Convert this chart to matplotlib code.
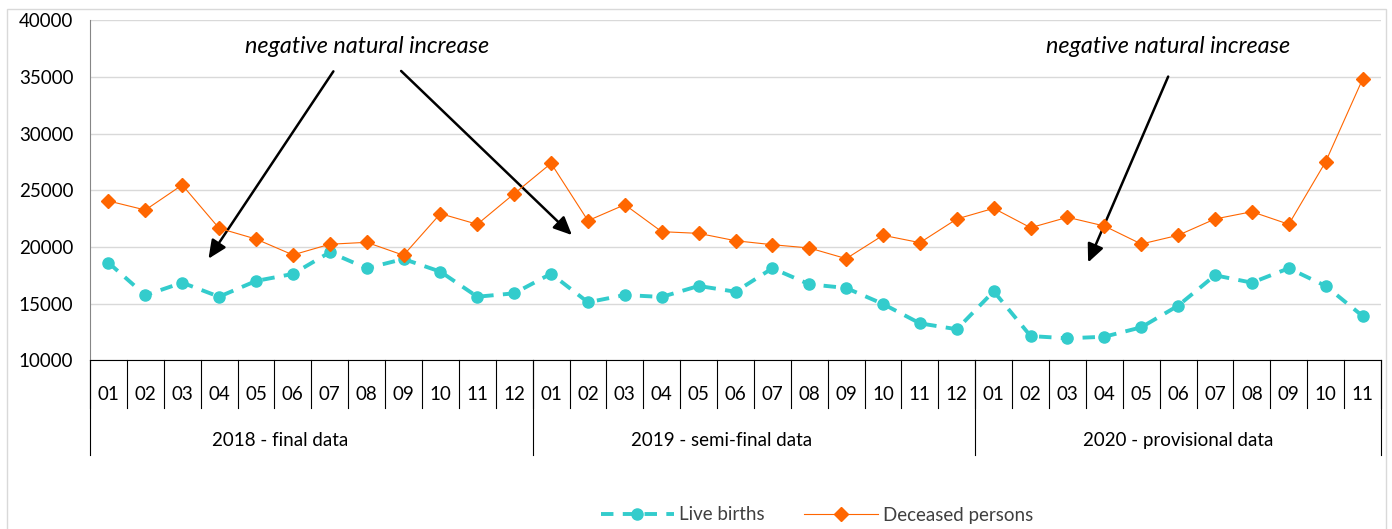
import matplotlib
matplotlib.use("Agg")
import matplotlib.pyplot as plt
from matplotlib.patches import Rectangle
from matplotlib import transforms

plt.rcParams['font.family'] = ['Lato', 'DejaVu Sans']

# data
months = ["01", "02", "03", "04", "05", "06", "07", "08", "09", "10", "11", "12",
          "01", "02", "03", "04", "05", "06", "07", "08", "09", "10", "11", "12",
          "01", "02", "03", "04", "05", "06", "07", "08", "09", "10", "11"]
groups = ["2018 - final data", "2019 - semi-final data", "2020 - provisional data"]
group_sizes = [12, 12, 11]

live_births = [18610, 15740, 16850, 15610, 17000, 17620, 19530, 18120, 18940, 17820, 15610, 15910,
               17640, 15120, 15760, 15590, 16560, 16050, 18120, 16710, 16380, 14970, 13260, 12740,
               16090, 12140, 11940, 12080, 12910, 14820, 17500, 16850, 18120, 16560, 13910]
deceased = [24060, 23260, 25470, 21650, 20700, 19300, 20240, 20410, 19270, 22940, 22000, 24700,
            27380, 22320, 23730, 21350, 21200, 20550, 20200, 19910, 18970, 21030, 20380, 22470,
            23410, 21700, 22620, 21850, 20260, 21030, 22470, 23110, 22000, 27520, 34800]
yticks = [10000, 15000, 20000, 25000, 30000, 35000, 40000]

W, H = 1392, 529
FS = 13.5
fig = plt.figure(figsize=(W / 100, H / 100), dpi=100)
fig.patches.append(Rectangle((7 / W, -0.1), (1386 - 7) / W, 1.1 - 9 / H,
                             transform=fig.transFigure, fill=False,
                             edgecolor="#D9D9D9", linewidth=1))

ax = fig.add_axes([90 / W, (H - 360.3) / H, 1291 / W, 340 / H])
x = list(range(len(months)))

ax.plot(x, live_births, color="#33CCCC", linewidth=2.8, dashes=(3.2, 2.4),
        marker="o", markersize=8, markeredgecolor="#33CCCC", label="Live births", zorder=3)
ax.plot(x, deceased, color="#FF6600", linewidth=0.8,
        marker="D", markersize=7.5, markeredgecolor="#FF6600", label="Deceased persons", zorder=4)

ax.set_xlim(-0.5, len(months) - 0.5)
ax.set_ylim(10000, 40000)
ax.set_yticks(yticks)
ax.set_yticklabels([str(v) for v in yticks], fontsize=FS)
ax.tick_params(axis="y", length=0, pad=12)
ax.set_xticks([])
ax.grid(axis="y", color="#D9D9D9", linewidth=1)
ax.set_axisbelow(True)
for s in ["top", "right"]:
    ax.spines[s].set_visible(False)
ax.spines["left"].set_color("#868686")
ax.spines["bottom"].set_color("#000000")

# category axis
trans = transforms.blended_transform_factory(ax.transData, ax.transAxes)
for i, m in enumerate(months):
    ax.text(i, -0.102, m, transform=trans, ha="center", va="center", fontsize=FS)
for i in range(len(months) + 1):
    ax.plot([i - 0.5, i - 0.5], [0, -0.14], transform=trans, color="black",
            linewidth=0.8, clip_on=False)
group_label_x = [4.65, 16.62, 28.99]
start = 0
for g, n, gx in zip(groups, group_sizes, group_label_x):
    ax.text(gx, -0.237, g, transform=trans, ha="center", va="center", fontsize=FS)
    ax.plot([start - 0.5, start - 0.5], [0, -0.278], transform=trans, color="black",
            linewidth=0.8, clip_on=False)
    start += n
ax.plot([start - 0.5, start - 0.5], [0, -0.278], transform=trans, color="black",
        linewidth=0.8, clip_on=False)

# annotations
arrow = dict(arrowstyle="-|>,head_length=1.1,head_width=0.5", color="black", linewidth=1.8)
ax.text(7.0, 37650, "negative natural increase", style="italic", ha="center", va="center", fontsize=16.8)
ax.text(28.74, 37650, "negative natural increase", style="italic", ha="center", va="center", fontsize=16.8)
ax.annotate("", xy=(2.67, 18760), xytext=(6.14, 35700), arrowprops=arrow)
ax.annotate("", xy=(12.62, 20880), xytext=(7.88, 35700), arrowprops=arrow)
ax.annotate("", xy=(26.53, 18410), xytext=(28.76, 35260), arrowprops=arrow)

leg = fig.legend(loc="center", bbox_to_anchor=(817 / W, 14 / H), ncol=2, frameon=False,
                 fontsize=FS, handlelength=3.9, handletextpad=0.3, columnspacing=2.1)
for t in leg.get_texts():
    t.set_color("#404040")

fig.savefig("out.png", dpi=100)
